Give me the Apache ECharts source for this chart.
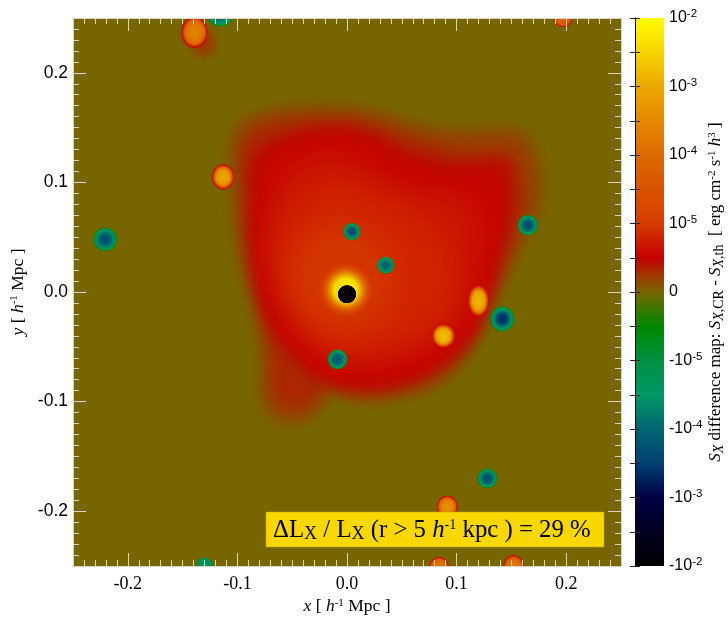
<!DOCTYPE html>
<html>
<head>
<meta charset="utf-8">
<style>html,body{margin:0;padding:0;background:#fff}#c{width:728px;height:629px}</style>
<script src="https://cdn.jsdelivr.net/npm/echarts@6/dist/echarts.min.js"></script>
</head>
<body>
<div id="c"></div>
<script>
// Colour scale: symlog index (-4 = -1e-2, 0 = 0, 4 = 1e-2) with its colour
const colorLevels = [-4, -3, -2.5, -2, -1.5, -1, -0.5, 0, 0.25, 0.5, 1, 2, 3, 4];
const colorValues = ['#000000', '#000044', '#004070', '#006670', '#009966', '#009040', '#008800',
  '#776600', '#a03600', '#c40000', '#d63c00', '#dc6a00', '#eca800', '#ffff00'];

// Tick labels
const axisMajorTicks = [-0.2, -0.1, 0, 0.1, 0.2];
const colorbarTickLabels = ['-10^-2', '-10^-3', '-10^-4', '-10^-5', '0', '10^-5', '10^-4', '10^-3', '10^-2'];

// Outlines of the extended excess (x, y in h^-1 Mpc), each at one colour-scale level
const contourLevels = [0.08, 0.2, 0.32, 0.45, 0.55, 0.70, 0.82, 0.95];
const contourA = [[-0.105,0.148],[-0.085,0.165],[-0.043,0.172],[-0.006,0.172],[0.026,0.168],[0.062,0.157],[0.108,0.151],[0.158,0.150],[0.176,0.128],[0.180,0.084],[0.167,0.052],[0.154,0.027],[0.137,-0.008],[0.122,-0.040],[0.094,-0.079],[0.053,-0.097],[0.012,-0.101],[-0.015,-0.095],[-0.026,-0.112],[-0.043,-0.122],[-0.066,-0.121],[-0.080,-0.100],[-0.079,-0.067],[-0.084,-0.035],[-0.092,-0.003],[-0.101,0.038],[-0.107,0.084]];
const contourB = [[-0.099,0.142],[-0.081,0.158],[-0.043,0.165],[-0.007,0.165],[0.025,0.161],[0.060,0.150],[0.106,0.143],[0.152,0.143],[0.169,0.122],[0.172,0.082],[0.160,0.050],[0.148,0.025],[0.133,-0.010],[0.118,-0.041],[0.090,-0.076],[0.051,-0.093],[0.012,-0.097],[-0.017,-0.091],[-0.028,-0.106],[-0.043,-0.114],[-0.061,-0.113],[-0.073,-0.097],[-0.074,-0.064],[-0.079,-0.033],[-0.087,-0.002],[-0.096,0.038],[-0.101,0.084]];
const contourC = [[-0.094,0.134],[-0.077,0.150],[-0.043,0.157],[-0.008,0.158],[0.024,0.153],[0.057,0.141],[0.102,0.130],[0.145,0.128],[0.157,0.112],[0.160,0.080],[0.151,0.048],[0.142,0.025],[0.129,-0.010],[0.115,-0.041],[0.085,-0.072],[0.048,-0.088],[0.012,-0.092],[-0.019,-0.086],[-0.030,-0.097],[-0.043,-0.103],[-0.056,-0.104],[-0.067,-0.092],[-0.068,-0.058],[-0.074,-0.030],[-0.082,-0.002],[-0.090,0.036],[-0.093,0.084]];
const contourD = [[-0.086,0.122],[-0.071,0.136],[-0.043,0.146],[-0.010,0.150],[0.022,0.145],[0.053,0.130],[0.098,0.118],[0.145,0.118],[0.150,0.095],[0.148,0.064],[0.140,0.035],[0.135,0.015],[0.125,-0.010],[0.112,-0.041],[0.080,-0.070],[0.046,-0.084],[0.012,-0.087],[-0.023,-0.079],[-0.045,-0.060],[-0.068,-0.030],[-0.078,-0.001],[-0.086,0.036],[-0.088,0.084]];
const contourE = [[-0.081,0.084],[-0.070,0.120],[-0.043,0.136],[-0.011,0.143],[0.021,0.136],[0.049,0.120],[0.094,0.107],[0.135,0.100],[0.138,0.061],[0.131,0.024],[0.122,-0.008],[0.109,-0.040],[0.076,-0.067],[0.044,-0.079],[0.012,-0.083],[-0.024,-0.073],[-0.052,-0.049],[-0.072,-0.017],[-0.081,0.029]];
const contourF = [[-0.070,0.075],[-0.056,0.107],[-0.011,0.125],[0.049,0.097],[0.113,0.079],[0.117,0.029],[0.103,-0.026],[0.067,-0.053],[0.012,-0.067],[-0.024,-0.053],[-0.052,-0.026],[-0.066,0.020]];
const contourG = [[-0.061,0.056],[-0.024,0.093],[0.021,0.088],[0.076,0.056],[0.094,0.011],[0.076,-0.030],[0.030,-0.049],[-0.015,-0.049],[-0.047,-0.017],[-0.064,0.020]];
const contourH = [[-0.043,0.038],[-0.015,0.061],[0.021,0.052],[0.044,0.011],[0.026,-0.026],[-0.011,-0.035],[-0.038,-0.017],[-0.050,0.011]];
const tailLevel = 0.22;
const tailOutline = [[-0.150,0.240],[-0.128,0.240],[-0.120,0.225],[-0.128,0.215],[-0.140,0.220]];

// Compact sources: x, y, x-radius, y-radius (h^-1 Mpc), peak on the colour-scale index
const positiveBlobs = [
  [-0.139, 0.237, 0.0122, 0.0145, 2.5],
  [-0.113, 0.105, 0.0105, 0.0118, 3.0],
  [0.0915, -0.196, 0.0098, 0.0105, 2.7],
  [0.084, -0.251, 0.0092, 0.0095, 2.3],
  [0.152, -0.250, 0.0095, 0.0100, 2.3],
  [0.197, 0.250, 0.0088, 0.0085, 2.0],
  [0.088, -0.040, 0.0110, 0.0115, 3.3],
  [0.120, -0.008, 0.0100, 0.0150, 3.2]
];
const negativeBlobs = [
  [-0.2205, 0.048, 0.0110, 0.0110, -2.4],
  [0.0045, 0.055, 0.0080, 0.0082, -2.4],
  [0.0353, 0.0244, 0.0080, 0.0080, -2.2],
  [-0.0086, -0.0614, 0.0092, 0.0092, -2.3],
  [0.1417, -0.0246, 0.0112, 0.0118, -2.7],
  [0.165, 0.061, 0.0095, 0.0095, -2.4],
  [0.128, -0.170, 0.0092, 0.0092, -2.4],
  [-0.1155, 0.255, 0.0130, 0.0130, -2.1],
  [-0.130, -0.250, 0.0080, 0.0080, -1.5]
];
const coreGlow = [-0.001, 0.002, 0.025, 0.025, 4];
const coreHole = [0.0, -0.002, 0.0085, 0.0085, -4];

const SERIF = '"Liberation Serif", serif';
const SANS = '"Liberation Sans", sans-serif';

function hex(c) { return [1, 3, 5].map(i => parseInt(c.substr(i, 2), 16)); }
function colorAt(level, alpha) {
  let i = 0;
  while (i < colorLevels.length - 2 && level > colorLevels[i + 1]) i++;
  const t = Math.max(0, Math.min(1, (level - colorLevels[i]) / (colorLevels[i + 1] - colorLevels[i])));
  const a = hex(colorValues[i]), b = hex(colorValues[i + 1]);
  const m = a.map((v, k) => Math.round(v + (b[k] - v) * t));
  return 'rgba(' + m.join(',') + ',' + (alpha === undefined ? 1 : alpha) + ')';
}

const contours = [contourA, contourB, contourC, contourD, contourE, contourF, contourG, contourH]
  .map((pts, i) => ({ pts, level: contourLevels[i], blur: i < 5 ? 13 : 26 }))
  .concat([{ pts: tailOutline, level: tailLevel, blur: 9 }]);

function blobStops(peak) {
  if (peak <= -3.5) return [
    { offset: 0, color: colorAt(-4) }, { offset: 0.85, color: colorAt(-3.9) },
    { offset: 0.97, color: colorAt(-3) }, { offset: 1, color: colorAt(-3, 0) }];
  if (peak >= 3.5) return [
    { offset: 0, color: colorAt(3.8) }, { offset: 0.42, color: colorAt(3.6) },
    { offset: 0.55, color: colorAt(3.0, 0.95) }, { offset: 0.75, color: colorAt(2.1, 0.6) },
    { offset: 1, color: colorAt(1.3, 0) }];
  if (peak > 0) return [
    { offset: 0, color: colorAt(peak) }, { offset: 0.55, color: colorAt(peak - 0.3) },
    { offset: 0.78, color: colorAt(1.7) }, { offset: 0.88, color: colorAt(0.8) },
    { offset: 0.96, color: colorAt(0.55) }, { offset: 1, color: colorAt(0.5, 0.3) }];
  return [
    { offset: 0, color: colorAt(peak) }, { offset: 0.4, color: colorAt(peak + 0.25) },
    { offset: 0.65, color: colorAt(-1.7) }, { offset: 0.82, color: colorAt(-1.4) },
    { offset: 0.94, color: colorAt(-0.7) }, { offset: 1, color: colorAt(-0.5, 0.2) }];
}

// Each outline is painted only as its blurred shadow, so that levels fade into each other
const SHADOW_SHIFT = 3000;
function renderContour(params, api) {
  const c = contours[params.dataIndex];
  const col = colorAt(c.level);
  return {
    type: 'polygon',
    shape: { points: c.pts.map(p => { const q = api.coord(p); return [q[0] - SHADOW_SHIFT, q[1]]; }), smooth: 0.45 },
    style: { fill: col, shadowBlur: c.blur, shadowColor: col, shadowOffsetX: SHADOW_SHIFT, shadowOffsetY: 0 }
  };
}
function renderBlob(params, api) {
  const cx = api.value(0), cy = api.value(1), rx = api.value(2), ry = api.value(3), peak = api.value(4);
  const c = api.coord([cx, cy]);
  const s = api.size([rx, ry]);
  return {
    type: 'circle',
    x: c[0], y: c[1], scaleX: s[0], scaleY: s[1],
    shape: { cx: 0, cy: 0, r: 1 },
    style: { fill: new echarts.graphic.RadialGradient(0.5, 0.5, 0.5, blobStops(peak)) }
  };
}
function renderColorbar(params, api) {
  const a = api.coord([0, 4]), b = api.coord([1, -4]);
  return {
    type: 'rect',
    shape: { x: a[0], y: a[1], width: b[0] - a[0], height: b[1] - a[1] },
    style: { fill: new echarts.graphic.LinearGradient(0, 1, 0, 0,
      colorLevels.map((l, i) => ({ offset: (l + 4) / 8, color: colorValues[i] }))) }
  };
}

const tickCol = '#d9d5c0';
const lim = { min: -0.25, max: 0.25 };
function xA(position, major, labelled) {
  return Object.assign({
    type: 'value', gridIndex: 0, position, z: 10, interval: 0.01,
    splitLine: { show: false },
    axisLine: { show: true, onZero: false, lineStyle: { color: tickCol, width: 1 } },
    axisTick: major
      ? { show: true, inside: true, length: 13, customValues: axisMajorTicks, lineStyle: { color: tickCol } }
      : { show: true, inside: true, length: 6, lineStyle: { color: tickCol } },
    axisLabel: labelled
      ? { show: true, customValues: axisMajorTicks, margin: 9, color: '#000', fontFamily: SERIF, fontSize: 18,
          formatter: v => Number(v).toFixed(1) }
      : { show: false }
  }, lim);
}
function yA(position, major, labelled) {
  const a = xA(position, major, labelled);
  if (labelled) { a.axisLabel.fontFamily = SANS; a.axisLabel.margin = 5; a.axisLabel.fontSize = 17.5; }
  return a;
}
const nameRich = {
  i: { fontFamily: SERIF, fontStyle: 'italic', fontSize: 17.5, color: '#000' },
  t: { fontFamily: SERIF, fontSize: 17.5, color: '#000' },
  sup: { fontFamily: SERIF, fontSize: 11, padding: [0, 0, 7, 0], color: '#000' },
  supi: { fontFamily: SERIF, fontStyle: 'italic', fontSize: 11, padding: [0, 0, 7, 0], color: '#000' },
  sub: { fontFamily: SERIF, fontSize: 12, padding: [7, 0, 0, 0], color: '#000' },
  subi: { fontFamily: SERIF, fontStyle: 'italic', fontSize: 12, padding: [7, 0, 0, 0], color: '#000' }
};
const xAxes = [xA('bottom', false, false), xA('bottom', true, true), xA('top', false, false), xA('top', true, false)];
xAxes[1].name = '{i|x}{t| [ }{i|h}{sup|-1}{t| Mpc ]}';
xAxes[1].nameLocation = 'middle';
xAxes[1].nameGap = 31;
xAxes[1].nameTextStyle = { rich: nameRich };
const yAxes = [yA('left', false, false), yA('left', true, true), yA('right', false, false), yA('right', true, false)];
yAxes[1].name = '{i|y}{t| [ }{i|h}{sup|-1}{t| Mpc ]}';
yAxes[1].nameLocation = 'middle';
yAxes[1].nameGap = 46;
yAxes[1].nameRotate = 90;
yAxes[1].nameTextStyle = { rich: nameRich };

// colorbar axes
xAxes.push({ type: 'value', gridIndex: 1, min: 0, max: 1, show: false });
const cbTick = { show: true, inside: true, length: 5, lineStyle: { color: '#222' } };
yAxes.push({
  type: 'value', gridIndex: 1, position: 'right', min: -4, max: 4, interval: 1, z: 10,
  splitLine: { show: false }, minorSplitLine: { show: false },
  axisLine: { show: true, lineStyle: { color: '#000' } },
  axisTick: cbTick,
  minorTick: { show: true, length: -5, splitNumber: 2, lineStyle: { color: '#222' } },
  axisLabel: {
    show: true, margin: 5, align: 'left',
    formatter: v => {
      const s = colorbarTickLabels[Math.round(v) + 4];
      const p = s.split('^');
      return p.length > 1 ? '{b|' + p[0] + '}{s|' + p[1] + '}' : '{b|' + s + '}';
    },
    rich: {
      b: { fontFamily: SANS, fontSize: 16, color: '#000' },
      s: { fontFamily: SANS, fontSize: 11.5, padding: [0, 0, 8, 0], color: '#000' }
    }
  },
  name: '{i|S}{subi|X}{t| difference map: }{i|S}{subi|X}{sub|,CR}{t| - }{i|S}{subi|X}{sub|,th}{t|  [ erg cm}{sup|-2}{t| s}{sup|-1}{t| }{i|h}{sup|3}{t| ]}',
  nameLocation: 'middle', nameGap: 29, nameRotate: 90, nameTextStyle: { rich: Object.assign({}, nameRich, {
    i: { fontFamily: SERIF, fontStyle: 'italic', fontSize: 17, color: '#000' },
    t: { fontFamily: SERIF, fontSize: 17, color: '#000' },
    sub: { fontFamily: SERIF, fontSize: 14, padding: [8, 0, 0, 0], color: '#000' },
    subi: { fontFamily: SERIF, fontStyle: 'italic', fontSize: 14, padding: [8, 0, 0, 0], color: '#000' }
  }) }
});
yAxes.push({
  type: 'value', gridIndex: 1, position: 'left', min: -4, max: 4, interval: 1, z: 10,
  splitLine: { show: false }, minorSplitLine: { show: false },
  axisLine: { show: true, lineStyle: { color: '#000' } },
  axisTick: cbTick,
  minorTick: { show: true, length: -5, splitNumber: 2, lineStyle: { color: '#222' } },
  axisLabel: { show: false }
});

const boxRich = {
  t: { fontFamily: SERIF, fontSize: 24.8, color: '#000' },
  i: { fontFamily: SERIF, fontStyle: 'italic', fontSize: 24.8, color: '#000' },
  sub: { fontFamily: SERIF, fontSize: 18, padding: [9, 0, 0, 0], color: '#000' },
  sup: { fontFamily: SERIF, fontSize: 14, padding: [0, 0, 10, 0], color: '#000' }
};

const chart = echarts.init(document.getElementById('c'), null, { renderer: 'canvas', width: 728, height: 629 });
chart.setOption({
  animation: false,
  backgroundColor: '#fff',
  grid: [
    { left: 73, top: 18, width: 548, height: 548, show: true, backgroundColor: '#776600', borderWidth: 0 },
    { left: 635, top: 18, width: 29, height: 548, show: false }
  ],
  xAxis: xAxes,
  yAxis: yAxes,
  series: [
    { type: 'custom', coordinateSystem: 'cartesian2d', xAxisIndex: 0, yAxisIndex: 0, clip: true, silent: true, z: 2,
      renderItem: renderContour, data: contours.map(c => [c.pts[0][0], c.pts[0][1], c.level]) },
    { type: 'custom', coordinateSystem: 'cartesian2d', xAxisIndex: 0, yAxisIndex: 0, clip: true, silent: true, z: 3,
      renderItem: renderBlob, encode: { x: 0, y: 1 },
      data: [coreGlow].concat(positiveBlobs, negativeBlobs, [coreHole]) },
    { type: 'custom', coordinateSystem: 'cartesian2d', xAxisIndex: 4, yAxisIndex: 4, silent: true, z: 2,
      renderItem: renderColorbar, data: [[0, 4]] }
  ],
  graphic: [
    { type: 'rect', z: 20, shape: { x: 266, y: 512, width: 338, height: 35 },
      style: { fill: '#f8d800', stroke: '#c9aa00', lineWidth: 0.5 } },
    { type: 'text', z: 21, x: 273, y: 530,
      style: {
        text: '{t|\u0394L}{sub|X}{t| / L}{sub|X}{t| (r > 5 }{i|h}{sup|-1}{t| kpc ) = 29 %}',
        rich: boxRich, verticalAlign: 'middle', fill: '#000'
      } }
  ]
});
</script>
</body>
</html>
